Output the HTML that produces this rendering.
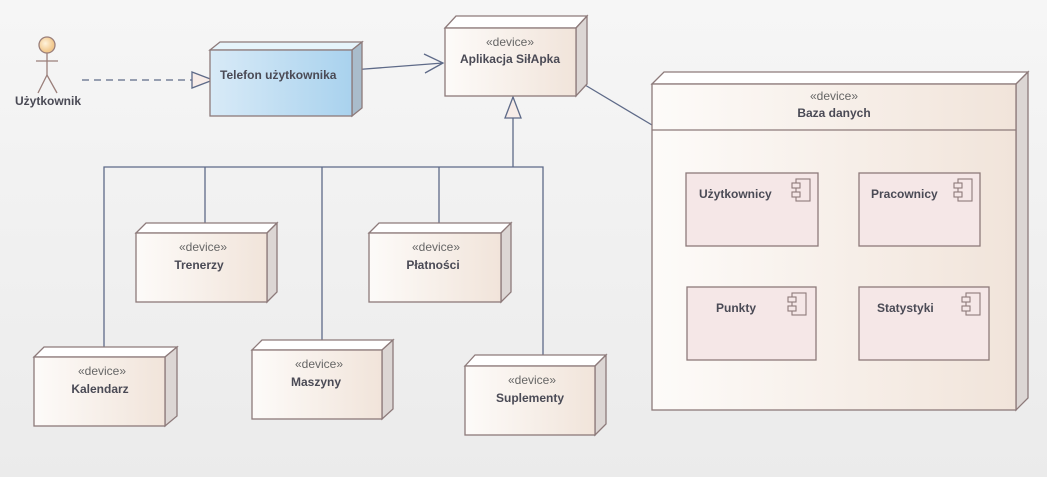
<!DOCTYPE html>
<html><head><meta charset="utf-8"><style>
body{margin:0;width:1047px;height:477px;overflow:hidden;}
svg text{font-family:"Liberation Sans",sans-serif;fill:#4a4a55;}
.st{font-size:12px;fill:#666;}
.nm{font-size:12px;font-weight:bold;}
</style></head><body>
<svg width="1047" height="477" xmlns="http://www.w3.org/2000/svg">
<defs>
<linearGradient id="bg" x1="0" y1="0" x2="0" y2="1"><stop offset="0" stop-color="#f6f6f6"/><stop offset="1" stop-color="#ebebeb"/></linearGradient>
<linearGradient id="nd" x1="0" y1="0" x2="1" y2="0"><stop offset="0" stop-color="#fdfbf9"/><stop offset="1" stop-color="#f1e4da"/></linearGradient>
<linearGradient id="bl" x1="0" y1="0" x2="1" y2="0"><stop offset="0" stop-color="#d8eaf7"/><stop offset="1" stop-color="#a9d2ee"/></linearGradient>
<radialGradient id="hd" cx="0.4" cy="0.4"><stop offset="0" stop-color="#fff3dc"/><stop offset="1" stop-color="#f2c98e"/></radialGradient>
</defs>
<rect width="1047" height="477" fill="url(#bg)"/>

<!-- connectors -->
<g stroke="#5e6a88" stroke-width="1.3" fill="none">
<line x1="82" y1="80" x2="192" y2="80" stroke-dasharray="7,5"/>
<line x1="352" y1="70" x2="443" y2="63"/>
<polyline points="424,54 443,63 425,73"/>
<line x1="585" y1="85" x2="652" y2="125"/>
<line x1="513" y1="118" x2="513" y2="167"/>
<polyline points="104,347 104,167 543,167 543,355"/>
<line x1="205" y1="167" x2="205" y2="223"/>
<line x1="322" y1="167" x2="322" y2="340"/>
<line x1="439" y1="167" x2="439" y2="223"/>
</g>
<polygon points="192,72 213,80 192,88" fill="#f7ece8" stroke="#5e6a88" stroke-width="1.3"/>
<polygon points="513,97 505,118 521,118" fill="#f7ece8" stroke="#5e6a88" stroke-width="1.3"/>

<!-- actor -->
<g stroke="#9a7f7a" stroke-width="1.3" fill="none">
<circle cx="47" cy="45" r="8" fill="url(#hd)"/>
<line x1="47" y1="53" x2="47" y2="75"/>
<line x1="36" y1="61" x2="58" y2="61"/>
<polyline points="38,93 47,75 57,93"/>
</g>
<text x="48" y="105" class="nm" text-anchor="middle">Użytkownik</text>

<!-- node template function-like manual -->
<!-- Telefon -->
<g stroke="#8d7a7a" stroke-width="1.3">
<polygon points="210,50 220,42 362,42 352,50" fill="#e6f4fb"/>
<polygon points="352,50 362,42 362,108 352,116" fill="#a9bccb"/>
<rect x="210" y="50" width="142" height="66" fill="url(#bl)"/>
</g>
<text x="220" y="79" class="nm">Telefon użytkownika</text>

<!-- Aplikacja -->
<g stroke="#8d7a7a" stroke-width="1.3">
<polygon points="445,28 456,16 587,16 576,28" fill="#fff"/>
<polygon points="576,28 587,16 587,84 576,96" fill="#dcd6d4"/>
<rect x="445" y="28" width="131" height="68" fill="url(#nd)"/>
</g>
<text x="510" y="46" class="st" text-anchor="middle">«device»</text>
<text x="510" y="63" class="nm" text-anchor="middle">Aplikacja SiłApka</text>

<!-- Baza -->
<g stroke="#8d7a7a" stroke-width="1.3">
<polygon points="652,84 664,72 1028,72 1016,84" fill="#fff"/>
<polygon points="1016,84 1028,72 1028,398 1016,410" fill="#dcd6d4"/>
<rect x="652" y="84" width="364" height="326" fill="url(#nd)"/>
<line x1="652" y1="130" x2="1016" y2="130"/>
</g>
<text x="834" y="100" class="st" text-anchor="middle">«device»</text>
<text x="834" y="117" class="nm" text-anchor="middle">Baza danych</text>

<g stroke="#8d7a7a" stroke-width="1.3" fill="#f5e7e7">
<rect x="686" y="173" width="132" height="73"/>
<rect x="859" y="173" width="121" height="73"/>
<rect x="687" y="287" width="129" height="73"/>
<rect x="859" y="287" width="130" height="73"/>
</g>
<g stroke="#8d7a7a" stroke-width="1.1" fill="#f5e7e7">
<rect x="796" y="179" width="14" height="22"/><rect x="792" y="183" width="8" height="5"/><rect x="792" y="192" width="8" height="5"/>
<rect x="958" y="179" width="14" height="22"/><rect x="954" y="183" width="8" height="5"/><rect x="954" y="192" width="8" height="5"/>
<rect x="792" y="293" width="14" height="22"/><rect x="788" y="297" width="8" height="5"/><rect x="788" y="306" width="8" height="5"/>
<rect x="966" y="293" width="14" height="22"/><rect x="962" y="297" width="8" height="5"/><rect x="962" y="306" width="8" height="5"/>
</g>
<text x="699" y="198" class="nm">Użytkownicy</text>
<text x="871" y="198" class="nm">Pracownicy</text>
<text x="716" y="312" class="nm">Punkty</text>
<text x="877" y="312" class="nm">Statystyki</text>

<!-- small devices -->
<g stroke="#8d7a7a" stroke-width="1.3">
<polygon points="136,233 146,223 277,223 267,233" fill="#fff"/>
<polygon points="267,233 277,223 277,292 267,302" fill="#dcd6d4"/>
<rect x="136" y="233" width="131" height="69" fill="url(#nd)"/>

<polygon points="369,233 379,223 511,223 501,233" fill="#fff"/>
<polygon points="501,233 511,223 511,292 501,302" fill="#dcd6d4"/>
<rect x="369" y="233" width="132" height="69" fill="url(#nd)"/>

<polygon points="34,357 44,347 177,347 165,357" fill="#fff"/>
<polygon points="165,357 177,347 177,416 165,426" fill="#dcd6d4"/>
<rect x="34" y="357" width="131" height="69" fill="url(#nd)"/>

<polygon points="252,350 262,340 393,340 382,350" fill="#fff"/>
<polygon points="382,350 393,340 393,409 382,419" fill="#dcd6d4"/>
<rect x="252" y="350" width="130" height="69" fill="url(#nd)"/>

<polygon points="465,366 475,355 606,355 595,366" fill="#fff"/>
<polygon points="595,366 606,355 606,424 595,435" fill="#dcd6d4"/>
<rect x="465" y="366" width="130" height="69" fill="url(#nd)"/>
</g>
<text x="203" y="251" class="st" text-anchor="middle">«device»</text>
<text x="199" y="269" class="nm" text-anchor="middle">Trenerzy</text>
<text x="436" y="251" class="st" text-anchor="middle">«device»</text>
<text x="433" y="269" class="nm" text-anchor="middle">Płatności</text>
<text x="102" y="375" class="st" text-anchor="middle">«device»</text>
<text x="100" y="393" class="nm" text-anchor="middle">Kalendarz</text>
<text x="319" y="368" class="st" text-anchor="middle">«device»</text>
<text x="316" y="386" class="nm" text-anchor="middle">Maszyny</text>
<text x="532" y="384" class="st" text-anchor="middle">«device»</text>
<text x="530" y="402" class="nm" text-anchor="middle">Suplementy</text>
</svg>
</body></html>
